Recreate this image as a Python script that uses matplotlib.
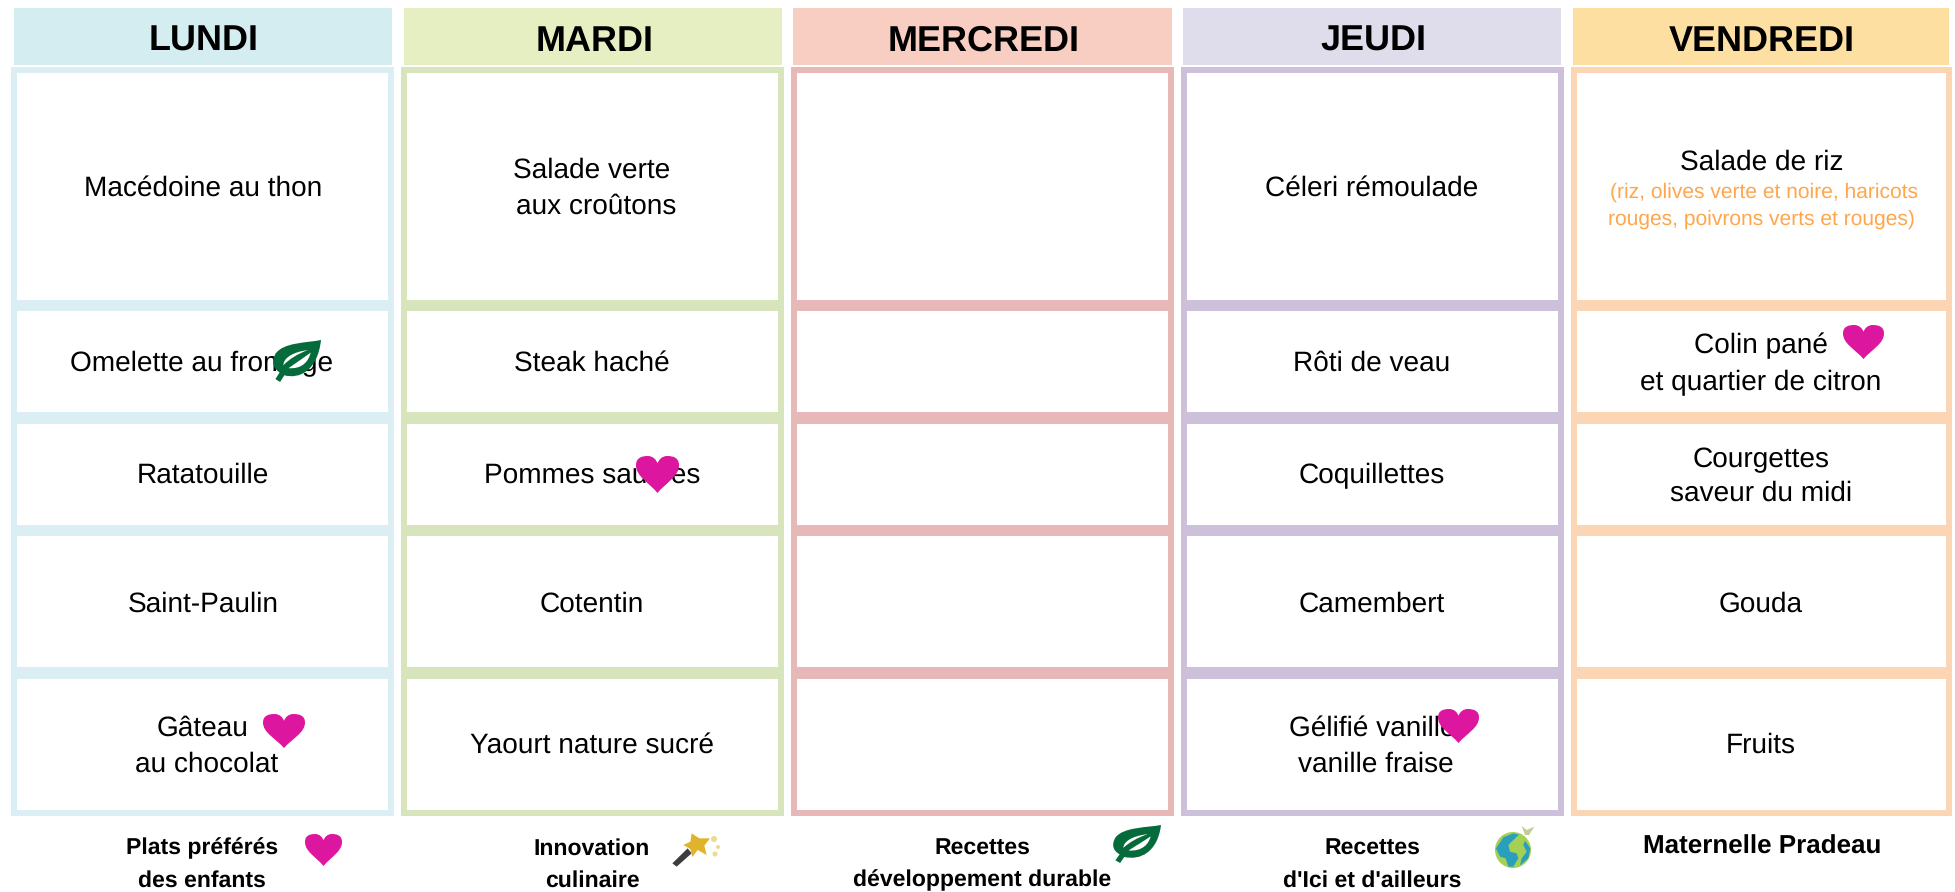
import matplotlib
matplotlib.use("Agg")
import matplotlib.pyplot as plt
from matplotlib.patches import Rectangle, PathPatch, Circle, Polygon
from matplotlib.path import Path
from matplotlib.transforms import Affine2D

plt.rcParams['font.family'] = ['Liberation Sans', 'DejaVu Sans']
plt.rcParams['text.hinting'] = 'no_hinting'
plt.rcParams['text.hinting_factor'] = 1

W, H = 1956, 892
days = ['LUNDI', 'MARDI', 'MERCREDI', 'JEUDI', 'VENDREDI']
header_colors = ['#D3EDF0', '#E6EFC2', '#F8CDC2', '#DFDDEC', '#FDDFA2']
border_colors = ['#DBEEF3', '#D8E4BC', '#E6B8B7', '#CCC0DA', '#FCD5B4']
header_x = [(14, 392), (404, 782), (793, 1172), (1183, 1561), (1573, 1949)]
header_cx = [204, 595, 984, 1373, 1762]
column_x = [(11, 394), (401, 784), (791, 1174), (1181, 1564), (1571, 1952)]
row_y = [(73, 300), (311, 412), (424, 525), (536, 667), (679, 810)]

menu_lines = [
    ('Macédoine au thon', 203, 186), ('Omelette au fromage', 202, 361), ('Ratatouille', 203, 473),
    ('Saint-Paulin', 203, 602), ('Gâteau', 203, 726), ('au chocolat', 207, 762),
    ('Salade verte', 592, 168), ('aux croûtons', 596, 204), ('Steak haché', 592, 361),
    ('Pommes sautées', 592, 473), ('Cotentin', 592, 602), ('Yaourt nature sucré', 592, 743),
    ('Céleri rémoulade', 1372, 186), ('Rôti de veau', 1372, 361), ('Coquillettes', 1372, 473),
    ('Camembert', 1372, 602), ('Gélifié vanille', 1372, 726), ('vanille fraise', 1376, 762),
    ('Salade de riz', 1762, 160), ('Colin pané', 1761, 343), ('et quartier de citron', 1761, 380),
    ('Courgettes', 1761, 457), ('saveur du midi', 1761, 491), ('Gouda', 1761, 602), ('Fruits', 1761, 743),
]
detail_lines = [('(riz, olives verte et noire, haricots', 1764, 190),
                ('rouges, poivrons verts et rouges)', 1761, 217)]
footer_lines = [
    ('Plats préférés', 202, 846), ('des enfants', 202, 878), ('Innovation', 592, 846), ('culinaire', 592, 878),
    ('Recettes', 982, 846), ('développement durable', 982, 878), ('Recettes', 1372, 846),
    ("d'Ici et d'ailleurs", 1372, 878),
]
school_line = ('Maternelle Pradeau', 1762, 844)
hearts = [(263, 305, 714, 748), (636, 679, 456, 493), (1438, 1479, 709, 743), (1843, 1884, 325, 359), (305, 342, 834, 866)]
leaves = [(274, 321, 340, 382), (1114, 1161, 825, 863)]

fig = plt.figure(figsize=(W / 100, H / 100), dpi=100)
ax = fig.add_axes([0, 0, 1, 1])
ax.set_xlim(0, W)
ax.set_ylim(H, 0)
ax.axis('off')

for (x0, x1), c, cx, d in zip(header_x, header_colors, header_cx, days):
    ax.add_patch(Rectangle((x0, 8), x1 - x0, 57, fc=c, ec='none'))
    ax.text(cx, 38, d, fontsize=26.1, fontweight='bold', ha='center', va='center_baseline', color='black')
for (x0, x1), c in zip(column_x, border_colors):
    ax.add_patch(Rectangle((x0, 67), x1 - x0, 749, fc=c, ec='none'))
    for y0, y1 in row_y:
        ax.add_patch(Rectangle((x0 + 6, y0), x1 - x0 - 12, y1 - y0, fc='white', ec='none'))

for t, x, y in menu_lines:
    ax.text(x, y, t, fontsize=20.4, ha='center', va='center_baseline', color='black', zorder=3)
for t, x, y in detail_lines:
    ax.text(x, y, t, fontsize=14.8, ha='center', va='center_baseline', color='#FFA64D', zorder=3)
for t, x, y in footer_lines:
    ax.text(x, y, t, fontsize=16.9, fontweight='bold', ha='center', va='center_baseline', color='black', zorder=3)
ax.text(school_line[1], school_line[2], school_line[0], fontsize=18.9, fontweight='bold', ha='center',
        va='center_baseline', color='black', zorder=3)


def place(box):
    x0, x1, y0, y1 = box
    return Affine2D().scale(x1 - x0, y1 - y0).translate(x0, y0) + ax.transData


def crop(x0, y0):
    return Affine2D().scale(1 / 3).translate(x0, y0) + ax.transData


C4, L, M, Z = Path.CURVE4, Path.LINETO, Path.MOVETO, Path.CLOSEPOLY
heart = Path([(.5, 1), (.3, .72), (0, .55), (0, .25), (0, .05), (.13, 0), (.27, 0), (.4, 0), (.47, .1), (.5, .2),
              (.53, .1), (.6, 0), (.73, 0), (.87, 0), (1, .05), (1, .25), (1, .55), (.7, .72), (.5, 1), (.5, 1)],
             [M, C4, C4, C4, C4, C4, C4, C4, C4, C4, C4, C4, C4, C4, C4, C4, C4, C4, C4, Z])
for b in hearts:
    ax.add_patch(PathPatch(heart, fc='#DC169F', ec='none', transform=place(b), zorder=5))

leaf = Path([(.03, .93), (.13, 1), (.22, .84), (.55, .94), (.93, .72), (1, 0), (.7, .07), (.2, .05), (.03, .33),
             (-.06, .52), (-.02, .68), (.12, .77), (.03, .93)],
            [M, L, L, C4, C4, C4, C4, C4, C4, C4, C4, C4, Z])
lobe_up = Path([(.2, .6), (.2, .42), (.42, .28), (.72, .24), (.5, .33), (.32, .46), (.2, .6), (.2, .6)],
               [M, C4, C4, C4, C4, C4, C4, Z])
lobe_low = Path([(.31, .67), (.5, .52), (.66, .4), (.78, .3), (.74, .5), (.6, .7), (.31, .67), (.31, .67)],
                [M, C4, C4, C4, C4, C4, C4, Z])
for b in leaves:
    ax.add_patch(PathPatch(leaf, fc='#056B3B', ec='none', transform=place(b), zorder=5))
    ax.add_patch(PathPatch(lobe_up, fc='white', ec='none', transform=place(b), zorder=6))
    ax.add_patch(PathPatch(lobe_low, fc='white', ec='none', transform=place(b), zorder=6))

wt = crop(665, 825)
ax.add_patch(Polygon([(22, 115), (35, 125), (80, 85), (68, 70)], closed=True, fc='#3D3D3D', ec='none', transform=wt, zorder=5))
star = [(80, 25), (103, 40), (135, 40), (118, 62), (125, 90), (98, 75), (82, 96), (76, 72), (55, 60), (76, 50)]
ax.add_patch(Polygon(star, closed=True, fc='#DFB42C', ec='none', transform=wt, zorder=6))
for x, y, r in [(714, 839, 3.0), (718, 847, 2.0), (715, 854, 2.5)]:
    ax.add_patch(Circle((x, y), r, fc='#EFD98F', ec='none', zorder=6))

gt = crop(1485, 820)
ax.add_patch(Circle((1513, 850), 18, fc='#A4D055', ec='none', zorder=5))
blob = [(33, 85), (55, 52), (85, 40), (102, 44), (85, 60), (70, 75), (75, 95), (95, 100), (100, 115), (85, 140),
        (70, 140), (62, 115), (45, 110)]
ax.add_patch(Polygon(blob, closed=True, fc='#2A9FBC', ec='none', transform=gt, zorder=6))
ax.add_patch(Polygon([(120, 62), (136, 85), (130, 115), (105, 136), (110, 115), (125, 95), (115, 75)],
                     closed=True, fc='#2A9FBC', ec='none', transform=gt, zorder=6))
ax.add_patch(Polygon([(110, 18), (125, 30), (148, 20), (132, 45), (120, 45)], closed=True, fc='#C3CC95', ec='none', transform=gt, zorder=6))

fig.savefig('out.png', dpi=100, facecolor='white')
